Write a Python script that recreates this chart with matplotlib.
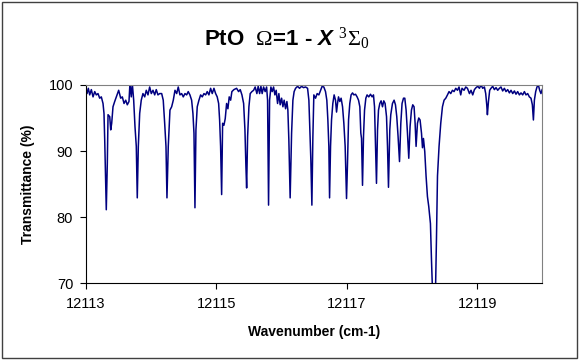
import matplotlib.pyplot as plt
from matplotlib.patches import Rectangle

plt.rcParams['font.family'] = ['Liberation Sans', 'DejaVu Sans']
plt.rcParams['mathtext.fontset'] = 'custom'
plt.rcParams['mathtext.rm'] = 'Liberation Serif'
plt.rcParams['mathtext.it'] = 'Liberation Serif:italic'
plt.rcParams['mathtext.bfit'] = 'Liberation Sans:bold:italic'

# spectrum: wavenumber = WN0 + offset
WN0 = 12113
wn_offset = [
    0.000, 0.020, 0.040, 0.061, 0.086, 0.112, 0.138, 0.162, 0.188, 0.214,
    0.239, 0.265, 0.280, 0.291, 0.300, 0.315, 0.331, 0.342, 0.368, 0.383,
    0.398, 0.418, 0.444, 0.469, 0.505, 0.536, 0.561, 0.587, 0.613, 0.637,
    0.663, 0.678, 0.698, 0.714, 0.735, 0.755, 0.775, 0.790, 0.806, 0.827,
    0.851, 0.877, 0.904, 0.928, 0.954, 0.980, 1.005, 1.031, 1.057, 1.081,
    1.107, 1.133, 1.164, 1.188, 1.210, 1.230, 1.245, 1.265, 1.291, 1.317,
    1.342, 1.368, 1.394, 1.418, 1.444, 1.470, 1.495, 1.521, 1.547, 1.571,
    1.597, 1.623, 1.643, 1.659, 1.674, 1.689, 1.709, 1.735, 1.761, 1.786,
    1.812, 1.838, 1.862, 1.888, 1.914, 1.939, 1.965, 1.991, 2.015, 2.037,
    2.052, 2.067, 2.083, 2.098, 2.118, 2.138, 2.159, 2.179, 2.199, 2.221,
    2.240, 2.271, 2.312, 2.343, 2.368, 2.394, 2.420, 2.440, 2.455, 2.466,
    2.481, 2.501, 2.521, 2.547, 2.573, 2.597, 2.623, 2.643, 2.665, 2.685,
    2.704, 2.726, 2.750, 2.772, 2.787, 2.802, 2.818, 2.838, 2.858, 2.879,
    2.899, 2.919, 2.940, 2.960, 2.980, 3.002, 3.022, 3.041, 3.063, 3.083,
    3.098, 3.113, 3.133, 3.155, 3.175, 3.194, 3.216, 3.247, 3.277, 3.308,
    3.338, 3.369, 3.400, 3.420, 3.435, 3.450, 3.466, 3.481, 3.496, 3.522,
    3.547, 3.573, 3.599, 3.623, 3.649, 3.675, 3.695, 3.711, 3.726, 3.737,
    3.752, 3.767, 3.787, 3.807, 3.828, 3.844, 3.859, 3.874, 3.894, 3.914,
    3.936, 3.956, 3.976, 3.997, 4.012, 4.028, 4.047, 4.067, 4.089, 4.109,
    4.135, 4.159, 4.181, 4.201, 4.216, 4.227, 4.242, 4.257, 4.273, 4.293,
    4.312, 4.338, 4.364, 4.389, 4.410, 4.426, 4.441, 4.456, 4.472, 4.487,
    4.507, 4.527, 4.548, 4.568, 4.588, 4.610, 4.625, 4.640, 4.660, 4.675,
    4.701, 4.726, 4.747, 4.767, 4.787, 4.809, 4.829, 4.848, 4.870, 4.890,
    4.910, 4.931, 4.951, 4.971, 4.992, 5.012, 5.032, 5.048, 5.063, 5.084,
    5.104, 5.124, 5.146, 5.161, 5.176, 5.196, 5.216, 5.237, 5.257, 5.283,
    5.299, 5.314, 5.329, 5.345, 5.360, 5.375, 5.391, 5.415, 5.441, 5.467,
    5.492, 5.518, 5.544, 5.568, 5.594, 5.620, 5.645, 5.671, 5.697, 5.721,
    5.747, 5.767, 5.798, 5.824, 5.850, 5.881, 5.905, 5.931, 5.957, 5.982,
    6.008, 6.034, 6.058, 6.084, 6.110, 6.130, 6.146, 6.156, 6.172, 6.191,
    6.211, 6.237, 6.263, 6.288, 6.314, 6.340, 6.364, 6.390, 6.416, 6.441,
    6.467, 6.493, 6.518, 6.544, 6.570, 6.594, 6.620, 6.646, 6.671, 6.697,
    6.723, 6.747, 6.773, 6.799, 6.824, 6.845, 6.861, 6.876, 6.896, 6.916,
    6.937, 6.957, 6.977, 6.995,
]
transmittance = [
    99.7, 98.7, 99.5, 98.5, 99.3, 98.2, 99.0, 98.5, 98.7, 98.0,
    98.2, 97.2, 95.7, 91.7, 87.6, 81.1, 88.2, 95.5, 95.2, 93.2,
    94.2, 96.7, 97.5, 98.2, 99.2, 98.0, 98.2, 97.2, 97.7, 97.0,
    97.5, 100.3, 98.2, 100.2, 97.7, 93.7, 90.7, 82.9, 90.7, 95.7,
    97.7, 98.7, 98.2, 99.2, 98.5, 99.7, 98.7, 99.2, 98.5, 99.3,
    98.5, 98.7, 98.7, 97.7, 94.2, 90.7, 82.9, 90.7, 96.2, 96.7,
    97.7, 99.2, 98.7, 99.7, 98.5, 98.7, 98.2, 98.7, 98.5, 99.0,
    98.5, 97.7, 95.7, 92.7, 81.4, 93.2, 96.7, 97.7, 98.5, 98.2,
    98.7, 98.5, 99.0, 98.5, 99.5, 98.7, 99.5, 98.7, 98.2, 97.2,
    94.7, 90.7, 83.4, 94.2, 93.9, 94.9, 97.2, 96.4, 98.2, 97.7,
    99.0, 99.3, 99.5, 99.0, 99.3, 98.5, 97.2, 93.2, 87.7, 84.4,
    92.2, 96.7, 98.7, 99.0, 99.2, 99.7, 98.7, 99.8, 98.7, 99.8,
    98.7, 99.7, 99.0, 99.7, 97.7, 81.8, 97.7, 99.7, 99.0, 99.7,
    98.5, 99.2, 97.2, 98.7, 97.0, 98.0, 96.7, 97.7, 96.4, 97.5,
    96.2, 91.7, 82.9, 92.7, 97.7, 99.0, 99.5, 99.8, 99.5, 99.8,
    99.6, 99.7, 99.5, 97.7, 93.2, 88.7, 81.8, 92.0, 98.5, 98.0,
    98.7, 98.5, 99.2, 99.8, 99.7, 99.0, 97.7, 94.7, 90.7, 82.9,
    90.7, 94.7, 97.2, 98.5, 97.7, 95.9, 97.2, 98.2, 97.5, 98.0,
    96.7, 94.2, 90.7, 82.8, 88.2, 94.7, 97.2, 98.5, 98.8, 98.5,
    98.6, 98.2, 97.7, 96.7, 92.7, 91.9, 84.8, 92.2, 96.2, 98.0,
    98.5, 98.2, 98.6, 98.2, 98.5, 96.7, 90.7, 85.1, 93.2, 96.2,
    97.2, 97.6, 96.7, 97.6, 97.2, 95.2, 90.7, 84.5, 93.2, 95.5,
    97.2, 97.7, 97.0, 95.2, 92.2, 88.4, 94.2, 97.2, 98.0, 98.0,
    96.2, 92.7, 88.9, 93.7, 96.2, 97.0, 96.7, 94.2, 90.7, 94.2,
    95.0, 94.7, 92.7, 90.5, 91.9, 89.9, 86.2, 83.1, 81.6, 79.0,
    73.5, 69.0, 66.5, 66.0, 68.5, 76.5, 86.2, 90.7, 94.2, 96.7,
    97.7, 98.0, 98.5, 99.0, 98.7, 99.2, 99.0, 99.5, 99.2, 99.7,
    98.5, 99.5, 99.2, 99.7, 99.5, 98.7, 99.2, 98.5, 99.3, 99.6,
    99.8, 99.5, 100.0, 99.5, 99.7, 98.7, 97.0, 95.5, 97.5, 99.2,
    99.5, 99.8, 99.3, 99.6, 99.2, 99.5, 99.7, 99.1, 99.5, 99.0,
    99.3, 98.8, 99.2, 98.7, 99.1, 98.6, 99.0, 98.5, 98.8, 98.5,
    99.0, 98.5, 98.7, 98.2, 98.0, 97.0, 94.7, 97.7, 99.0, 99.7,
    100.0, 99.2, 98.7, 99.3,
]
x_ticks = [12113, 12115, 12117, 12119]
y_ticks = [70, 80, 90, 100]

wavenumber = [WN0 + d for d in wn_offset]

fig = plt.figure(figsize=(5.8, 3.62), dpi=100)
ax = fig.add_axes([0.1478, 0.2182, 0.7875, 0.547])

ax.plot(wavenumber, transmittance, color='#000080', lw=1.1)

ax.set_xlim(12113, 12120)
ax.set_ylim(70, 100)
ax.set_xticks(x_ticks)
ax.set_xticklabels([str(t) for t in x_ticks])
ax.set_yticks(y_ticks)
ax.tick_params(direction='out', length=4, width=0.8, labelsize=10.5)
ax.tick_params(axis='x', pad=6)
ax.tick_params(axis='y', pad=5)

for side in ['left', 'bottom']:
    ax.spines[side].set_color('black')
for side in ['top', 'right']:
    ax.spines[side].set_color('#808080')

ax.set_xlabel('Wavenumber (cm-1)', fontsize=10, fontweight='bold', labelpad=10)
ax.set_ylabel('Transmittance (%)', fontsize=10, fontweight='bold', labelpad=10)

fig.text(0.495, 0.874, r'PtO  $\Omega$=1 - $\mathbfit{X}$ $^{3}\Sigma_{0}$',
         ha='center', va='baseline', fontsize=16, fontweight='bold')

fig.patches.append(Rectangle((0.004, 0.012), 0.99, 0.982, transform=fig.transFigure,
                             fill=False, edgecolor='#404040', lw=1.0))

fig.savefig('out.png', dpi=100)
